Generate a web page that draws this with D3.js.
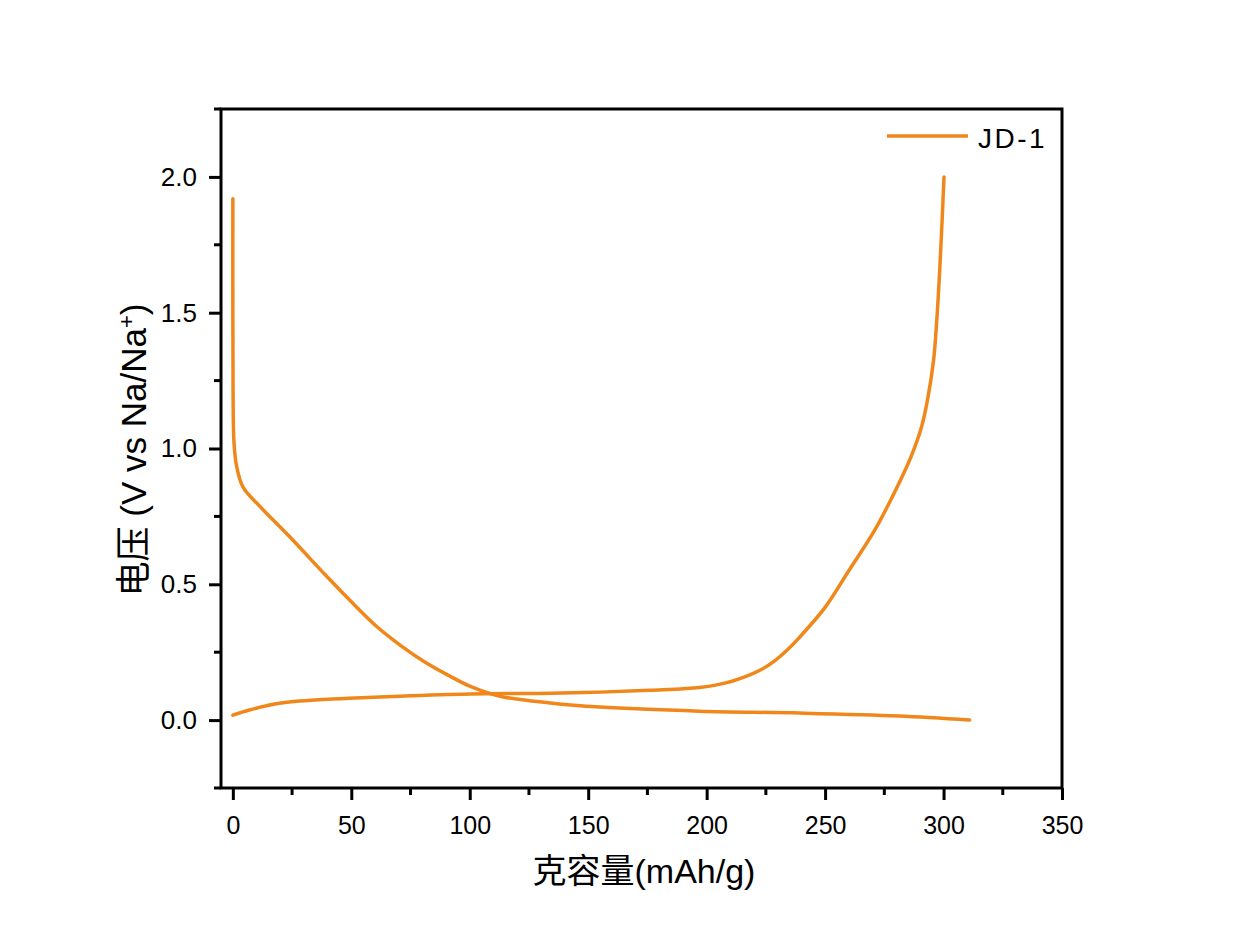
<!DOCTYPE html>
<html><head><meta charset="utf-8">
<script src="https://cdn.jsdelivr.net/npm/d3@7"></script>
<style>body{margin:0;background:#fff}</style>
</head><body><svg id="c" width="1235" height="945"></svg>
<script>
const seriesName = "JD-1";
const dischargeCap = [0, 0, 0.1, 0.5, 1.65, 4.3, 11.5, 24.1, 39, 49.5, 60, 70.6, 81, 91.6, 100, 112.7, 134, 155, 197, 239, 281, 311];
const dischargeV  = [1.92, 1.5, 1.2, 1.02, 0.932, 0.858, 0.786, 0.674, 0.535, 0.44, 0.35, 0.276, 0.214, 0.162, 0.125, 0.088, 0.063, 0.048, 0.033, 0.026, 0.015, 0.0];
const chargeCap = [0, 7, 17.7, 28, 40, 49, 70.5, 100, 134, 155, 176, 197, 207.6, 218, 223.5, 228.7, 234, 239, 250, 260, 271, 281.9, 286.3, 290.7, 293.25, 295.8, 297.2, 298.6, 300.2];
const chargeV   = [0.018, 0.037, 0.059, 0.070, 0.077, 0.080, 0.088, 0.096, 0.099, 0.103, 0.11, 0.12, 0.136, 0.166, 0.188, 0.218, 0.258, 0.303, 0.415, 0.55, 0.70, 0.885, 0.97, 1.079, 1.18, 1.326, 1.48, 1.694, 2.0];
const xTicks = [0, 50, 100, 150, 200, 250, 300, 350];
const xMinor = [25, 75, 125, 175, 225, 275, 325];
const yTicks = [0.0, 0.5, 1.0, 1.5, 2.0];
const yMinor = [-0.25, 0.25, 0.75, 1.25, 1.75, 2.25];

const color = "#F0871A";
const svg = d3.select("#c");
const L = 221, R = 1062, T = 109, B = 788;
const x = d3.scaleLinear().domain([-5, 350]).range([L, R]);
const y = d3.scaleLinear().domain([-0.25, 2.25]).range([B, T]);
const font = "'Liberation Sans', Arial, sans-serif";
const cjk = "'Liberation Sans','Noto Sans CJK SC',sans-serif";

const dis = dischargeCap.map((c, i) => [c, dischargeV[i]]);
const chg = chargeCap.map((c, i) => [c, chargeV[i]]);
const line = d3.line().x(d => x(d[0])).y(d => y(d[1])).curve(d3.curveCatmullRom.alpha(0.5));
[dis, chg].forEach(d => svg.append("path").attr("d", line(d)).attr("fill", "none")
  .attr("stroke", color).attr("stroke-width", 3.5).attr("stroke-linecap", "round"));

// Frame
svg.append("rect").attr("x", L).attr("y", T).attr("width", R - L).attr("height", B - T)
  .attr("fill", "none").attr("stroke", "#000").attr("stroke-width", 3);

// X axis
const xa = svg.append("g").attr("transform", `translate(0,${B})`)
  .call(d3.axisBottom(x).tickValues(xTicks).tickSize(12).tickSizeOuter(0).tickFormat(d3.format("d")));
xa.select(".domain").remove();
xa.selectAll(".tick line").attr("stroke-width", 3);
xa.selectAll(".tick text").attr("font-family", font).attr("font-size", 25).attr("dy", "0.71em").attr("y", 28).attr("fill", "#000");
svg.append("g").selectAll("line").data(xMinor).join("line")
  .attr("x1", d => x(d)).attr("x2", d => x(d)).attr("y1", B).attr("y2", B + 7)
  .attr("stroke", "#000").attr("stroke-width", 3);

// Y axis
const ya = svg.append("g").attr("transform", `translate(${L},0)`)
  .call(d3.axisLeft(y).tickValues(yTicks).tickSize(12).tickSizeOuter(0).tickFormat(d3.format(".1f")));
ya.select(".domain").remove();
ya.selectAll(".tick line").attr("stroke-width", 3);
ya.selectAll(".tick text").attr("font-family", font).attr("font-size", 26).attr("x", -24).attr("fill", "#000");
svg.append("g").selectAll("line").data(yMinor).join("line")
  .attr("x1", L).attr("x2", L - 7).attr("y1", d => y(d)).attr("y2", d => y(d))
  .attr("stroke", "#000").attr("stroke-width", 3);

// Axis titles
svg.append("text").attr("x", 644).attr("y", 883).attr("text-anchor", "middle")
  .attr("font-family", cjk).attr("font-size", 34)
  .text("克容量(mAh/g)");
const yt = svg.append("text").attr("transform", `translate(146,450) rotate(-90)`).attr("text-anchor", "middle")
  .attr("font-family", cjk).attr("font-size", 35);
yt.append("tspan").text("电压 (V vs Na/Na");
yt.append("tspan").attr("baseline-shift", "super").attr("font-size", 22).text("+");
yt.append("tspan").text(")");

// Legend
svg.append("line").attr("x1", 887).attr("x2", 968).attr("y1", 136).attr("y2", 136)
  .attr("stroke", color).attr("stroke-width", 3.5);
svg.append("text").attr("x", 978).attr("y", 148).attr("font-family", font).attr("font-size", 28)
  .attr("letter-spacing", 2.5).text(seriesName);
</script></body></html>
